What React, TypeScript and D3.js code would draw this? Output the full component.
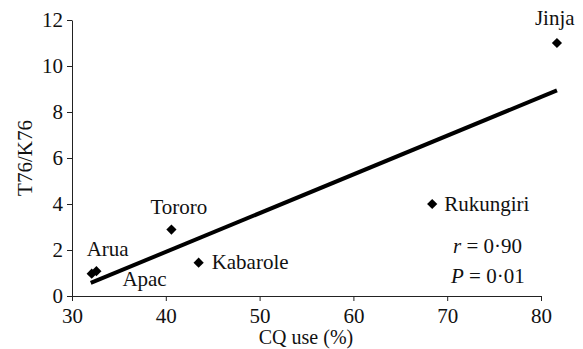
import * as React from "react";
import * as d3 from "d3";

// districts: CQ use (%) vs T76/K76
const districts = ["Arua", "Apac", "Tororo", "Kabarole", "Rukungiri", "Jinja"];
const cqUse = [32.1, 32.6, 40.6, 43.5, 68.4, 81.7];
const ratio = [0.97, 1.08, 2.89, 1.45, 4.0, 11.0];

// fitted line end points
const trendX = [32.0, 81.7];
const trendY = [0.57, 8.94];

const xTicks = [30, 40, 50, 60, 70, 80];
const yTicks = [0, 2, 4, 6, 8, 10, 12];

// label placement relative to each point (dx, dy)
const labelOffsets = [
  [-5, -18],
  [26, 15],
  [-21, -16],
  [13, 6],
  [12, 7],
  [-22, -18],
];

const FONT = "Liberation Serif";

export default function App() {
  const ref = React.useRef<SVGSVGElement>(null);

  React.useEffect(() => {
    const svg = d3.select(ref.current);
    svg.selectAll("*").remove();

    const x = d3.scaleLinear().domain([30, 80]).range([72, 541]);
    const y = d3.scaleLinear().domain([0, 12]).range([296, 20]);

    const xAxis = d3.axisBottom(x).tickValues(xTicks).tickSize(5).tickSizeOuter(0).tickPadding(4);
    const yAxis = d3.axisLeft(y).tickValues(yTicks).tickSize(5).tickSizeOuter(0).tickPadding(4);

    const gx = svg.append("g").attr("transform", "translate(0,296)").call(xAxis);
    const gy = svg.append("g").attr("transform", "translate(72,0)").call(yAxis);

    [gx, gy].forEach(g => {
      g.attr("font-family", FONT).attr("font-size", 21);
      g.selectAll("path,line").attr("stroke", "#222").attr("stroke-width", 1);
      g.selectAll("text").attr("fill", "#111");
    });
    gx.selectAll("text").attr("dy", "0.85em");

    // trend line
    const pts = trendX.map((v, i) => [v, trendY[i]] as [number, number]);
    svg.append("path")
      .attr("d", d3.line().x(d => x(d[0])).y(d => y(d[1]))(pts))
      .attr("fill", "none")
      .attr("stroke", "#000")
      .attr("stroke-width", 4);

    const sym = d3.symbol().type(d3.symbolSquare).size(52);
    svg.selectAll("path.pt")
      .data(districts)
      .enter()
      .append("path")
      .attr("class", "pt")
      .attr("d", sym())
      .attr("transform", (d, i) => `translate(${x(cqUse[i])},${y(ratio[i])}) rotate(45)`)
      .attr("fill", "#000");

    svg.selectAll("text.lbl")
      .data(districts)
      .enter()
      .append("text")
      .attr("class", "lbl")
      .attr("x", (d, i) => x(cqUse[i]) + labelOffsets[i][0])
      .attr("y", (d, i) => y(ratio[i]) + labelOffsets[i][1])
      .attr("font-family", FONT)
      .attr("font-size", 21)
      .attr("fill", "#111")
      .text(d => d);

    // stats
    const stats = svg.append("g").attr("font-family", FONT).attr("font-size", 21).attr("fill", "#111");
    const r = stats.append("text").attr("x", 453).attr("y", 253);
    r.append("tspan").attr("font-style", "italic").text("r");
    r.append("tspan").text(" = 0·90");
    const p = stats.append("text").attr("x", 451).attr("y", 283);
    p.append("tspan").attr("font-style", "italic").text("P");
    p.append("tspan").text(" = 0·01");

    // axis titles
    svg.append("text")
      .attr("x", 306)
      .attr("y", 344)
      .attr("text-anchor", "middle")
      .attr("font-family", FONT)
      .attr("font-size", 20)
      .attr("fill", "#111")
      .text("CQ use (%)");

    svg.append("text")
      .attr("transform", "translate(32,158) rotate(-90)")
      .attr("text-anchor", "middle")
      .attr("font-family", FONT)
      .attr("font-size", 21)
      .attr("fill", "#111")
      .text("T76/K76");
  }, []);

  return (
    <svg
      ref={ref}
      width={583}
      height={349}
      style={{ position: "absolute", left: 0, top: 0, background: "#fff" }}
    />
  );
}
